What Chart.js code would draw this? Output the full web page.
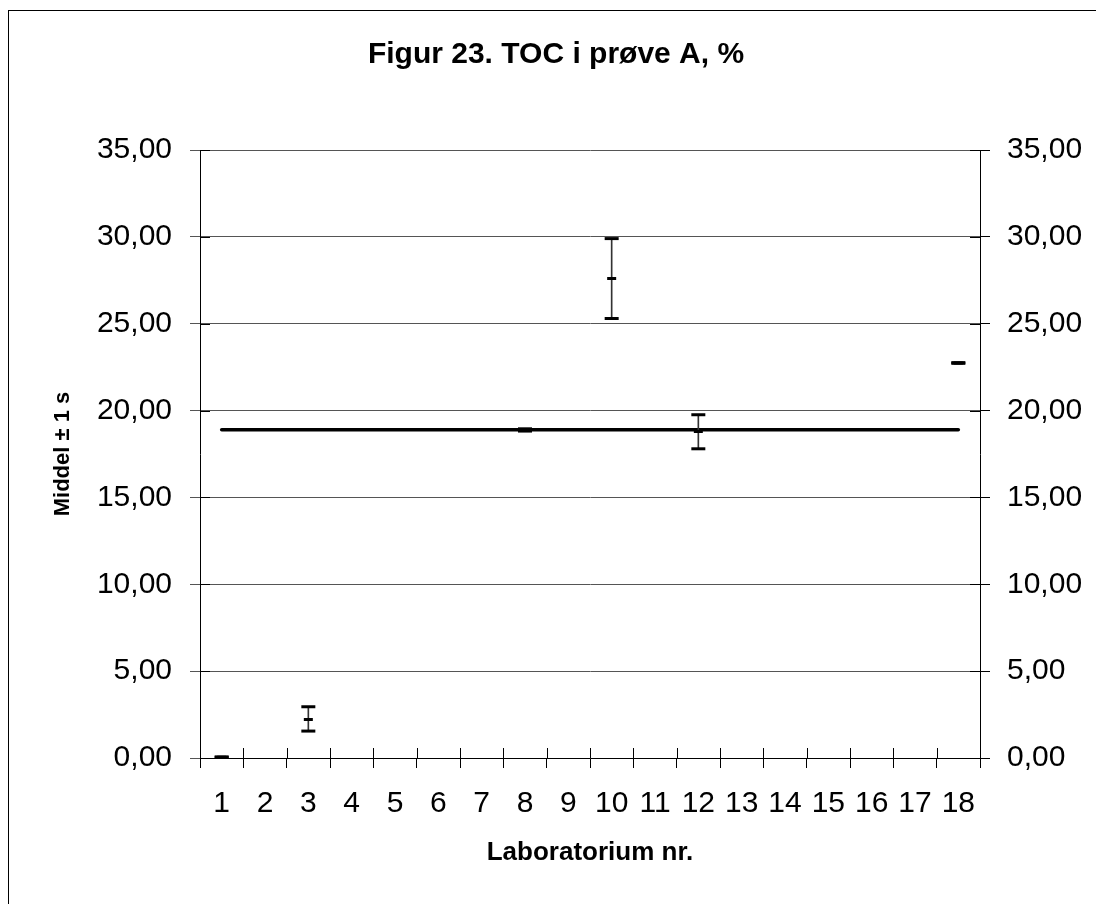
<!DOCTYPE html>
<html><head><meta charset="utf-8">
<script src="https://cdn.jsdelivr.net/npm/chart.js@4"></script>
<style>
html,body{margin:0;padding:0;background:#fff;overflow:hidden}
#wrap{position:relative;width:1096px;height:904px;overflow:hidden}
#frame{position:absolute;left:8px;top:10px;width:1200px;height:1000px;border:1px solid #000;box-sizing:border-box;pointer-events:none}
canvas{position:absolute;left:0;top:0}
</style></head><body>
<div id="wrap"><canvas id="c" width="1096" height="904"></canvas><div id="frame"></div></div>
<script>
const categories = ['1','2','3','4','5','6','7','8','9','10','11','12','13','14','15','16','17','18'];
const means       = [0.05, null, 2.22, null, null, null, null, 18.88, null, 27.6, null, 18.8,  null, null, null, null, null, 22.74];
const lowerValues = [0.04, null, 1.55, null, null, null, null, 18.82, null, 25.3, null, 17.8,  null, null, null, null, null, 22.72];
const upperValues = [0.06, null, 2.95, null, null, null, null, 18.95, null, 29.9, null, 19.76, null, null, null, null, null, 22.76];
const referenceValue = 18.9;
const yTicks = [0, 5, 10, 15, 20, 25, 30, 35];

const titleText = 'Figur 23. TOC i prøve A, %';
const xTitle = 'Laboratorium nr.';
const yTitle = 'Middel ± 1 s';

const FAMILY = "'Liberation Sans', Arial, sans-serif";
const fmt = v => Number(v).toFixed(2).replace('.', ',');
const errorRanges = categories.map((c, i) => lowerValues[i] == null ? null : [lowerValues[i], upperValues[i]]);

const innerTicks = {
  id: 'innerTicks',
  beforeDatasetsDraw(chart) {
    const {ctx, scales: {x, y, y2}} = chart;
    ctx.save();
    ctx.strokeStyle = '#000';
    ctx.lineWidth = 1;
    ctx.beginPath();
    y.ticks.forEach(t => {
      const py = Math.round(y.getPixelForValue(t.value)) + 0.5;
      ctx.moveTo(y.right, py); ctx.lineTo(y.right + 10, py);
      ctx.moveTo(y2.left, py); ctx.lineTo(y2.left - 10, py);
    });
    const n = categories.length;
    const half = (x.getPixelForTick(1) - x.getPixelForTick(0)) / 2;
    for (let i = 0; i <= n; i++) {
      const base = x.getPixelForTick(Math.min(i, n - 1));
      const px = Math.round(i < n ? base - half : base + half) + 0.5;
      ctx.moveTo(px, x.top); ctx.lineTo(px, x.top - 10);
    }
    ctx.stroke();
    ctx.restore();
  }
};

const valueAxis = (position, width, extra) => Object.assign({
  position,
  min: 0, max: 35,
  afterBuildTicks(s) { s.ticks = yTicks.map(v => ({value: v})); },
  ticks: {font: {family: FAMILY, size: 30}, color: '#000', padding: 17, callback: fmt},
  border: {color: '#000', width: 1},
  afterFit(s) { s.width = width; }
}, extra);

new Chart(document.getElementById('c'), {
  data: {
    labels: categories,
    datasets: [
      {type: 'line', label: 'ref', data: [{x: categories[0], y: referenceValue}, {x: categories[categories.length - 1], y: referenceValue}],
        borderColor: '#000', borderWidth: 3.5, pointRadius: 0, fill: false, order: 5, borderCapStyle: 'round'},
      {type: 'bar', label: 'sd', data: errorRanges, backgroundColor: '#333', barThickness: 1, grouped: false, order: 4},
      {type: 'line', label: 'hi', data: upperValues, showLine: false, pointStyle: 'line', pointRadius: 7, pointBorderWidth: 3, pointBorderColor: '#000', borderColor: '#000', order: 1},
      {type: 'line', label: 'lo', data: lowerValues, showLine: false, pointStyle: 'line', pointRadius: 7, pointBorderWidth: 3, pointBorderColor: '#000', borderColor: '#000', order: 1},
      {type: 'line', label: 'mean', data: means, showLine: false, pointStyle: 'line', pointRadius: 4.5, pointBorderWidth: 3, pointBorderColor: '#000', borderColor: '#000', order: 1}
    ]
  },
  options: {
    responsive: false,
    animation: false,
    devicePixelRatio: 1,
    layout: {padding: {left: 16, top: 0, right: 0, bottom: 0}},
    plugins: {
      legend: {display: false},
      tooltip: {enabled: false},
      title: {display: true, text: titleText, color: '#000', font: {family: FAMILY, size: 30, weight: 'bold'}, padding: {top: 37, bottom: 77}}
    },
    scales: {
      x: {
        type: 'category', offset: true,
        grid: {offset: true, drawOnChartArea: false, drawTicks: true, tickLength: 10, color: '#000'},
        border: {color: '#000', width: 1},
        ticks: {font: {family: FAMILY, size: 30}, color: '#000', padding: 18, maxRotation: 0, autoSkip: false},
        title: {display: true, text: xTitle, color: '#000', font: {family: FAMILY, size: 26, weight: 'bold'}, padding: {top: 0, bottom: 36}},
        afterFit(s) { s.height = 146; }
      },
      y: valueAxis('left', 184, {
        grid: {color: '#555', tickLength: 10},
        ticks: {font: {family: FAMILY, size: 30}, color: '#000', padding: 18, callback: fmt},
        title: {display: true, text: yTitle, color: '#000', font: {family: FAMILY, size: 22, weight: 'bold'}, padding: {top: 34, bottom: 0}}
      }),
      y2: valueAxis('right', 116, {
        grid: {drawOnChartArea: false, color: '#000', tickLength: 10}
      })
    }
  },
  plugins: [innerTicks]
});
</script>
</body></html>
